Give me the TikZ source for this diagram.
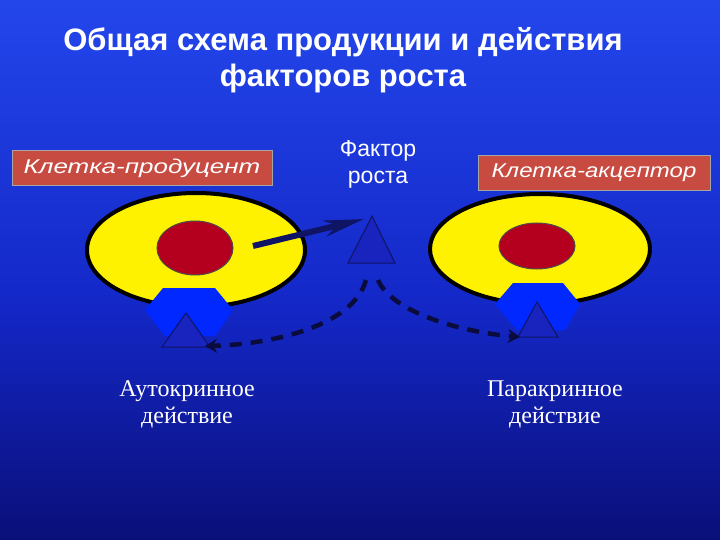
\documentclass[tikz,border=0pt]{standalone}
\usepackage{fontspec}
\setmainfont{Liberation Serif}
\setsansfont{Liberation Sans}
\usetikzlibrary{arrows.meta}
\definecolor{bgtop}{RGB}{35,70,235}
\definecolor{bgmid}{RGB}{20,40,200}
\definecolor{bgbot}{RGB}{10,15,120}
\definecolor{boxred}{RGB}{200,75,65}
\definecolor{nucl}{RGB}{180,0,30}
\definecolor{recep}{RGB}{0,40,255}
\definecolor{gf}{RGB}{25,35,190}
\definecolor{navy}{RGB}{15,20,100}
\begin{document}
\begin{tikzpicture}[x=1pt,y=-1pt,
  cell/.style={draw=black,line width=4pt,fill=yellow},
  nuc/.style={draw=black!70,line width=1pt,fill=nucl},
  rec/.style={fill=recep,draw=none},
  tri/.style={fill=gf,draw=navy,line width=1pt},
  lbl/.style={fill=boxred,draw=gray!70,line width=1pt,text=white,font=\sffamily\itshape\fontsize{20}{22}\selectfont,inner sep=0pt,minimum height=35pt},
  wt/.style={text=white,align=center},
  dsh/.style={line width=4.5pt,dash pattern=on 12pt off 9pt,draw=navy!60!black}]
\useasboundingbox (0,0) rectangle (720,540);
\shade[top color=bgtop,bottom color=bgmid] (0,0) rectangle (720,300);
\shade[top color=bgmid,bottom color=bgbot] (0,300) rectangle (720,540);
\node[wt,font=\sffamily\bfseries\fontsize{31}{36}\selectfont] (title) at (343,60) {Общая схема продукции и действия\\факторов роста};
\node[lbl,minimum width=260pt] (prod) at (142,168) {\scalebox{1.3}[1]{Клетка-продуцент}};
\node[lbl,minimum width=232pt] (acc) at (594,173) {\scalebox{1.2}[1]{Клетка-акцептор}};
\node[wt,font=\sffamily\fontsize{23}{27}\selectfont] (factor) at (378,164) {Фактор\\роста};
\node[wt,font=\fontsize{24}{27}\selectfont] (auto) at (187,404) {Аутокринное\\действие};
\node[wt,font=\fontsize{24}{27}\selectfont] (para) at (555,404) {Паракринное\\действие};
% left cell
\draw[cell] (196,250) ellipse [x radius=109,y radius=57];
\draw[nuc] (195,248) ellipse [x radius=38,y radius=27];
\fill[rec] (163,288)--(215,288)--(233,310)--(215,336)--(165,336)--(145,310)--cycle;
\draw[tri] (186,313)--(210,347)--(162,347)--cycle;
\coordinate (l1) at (205,346);
% right cell
\draw[cell] (540,249) ellipse [x radius=110,y radius=55];
\draw[nuc] (537,246) ellipse [x radius=38,y radius=23];
\fill[rec] (513,283)--(563,283)--(580,304)--(565,330)--(517,330)--(495,304)--cycle;
\draw[tri] (537,302)--(558,337)--(518,337)--cycle;
\coordinate (r1) at (520,337);
% growth factor
\draw[tri] (372,216)--(395,263)--(348,263)--cycle;
\coordinate (a0) at (253,246);
\coordinate (a1) at (364,219);
\draw[navy,line width=6pt,-{Stealth[length=40pt,width=16pt]}] (a0)--(a1);
\coordinate (d1) at (366,280);
\coordinate (d2) at (378,280);
\draw[dsh,-{Stealth[length=12pt,width=14pt]}] (d1) .. controls (352,330) and (260,345) .. (l1);
\draw[dsh,-{Stealth[length=12pt,width=14pt]}] (d2) .. controls (392,312) and (460,332) .. (r1);
\end{tikzpicture}
\end{document}
